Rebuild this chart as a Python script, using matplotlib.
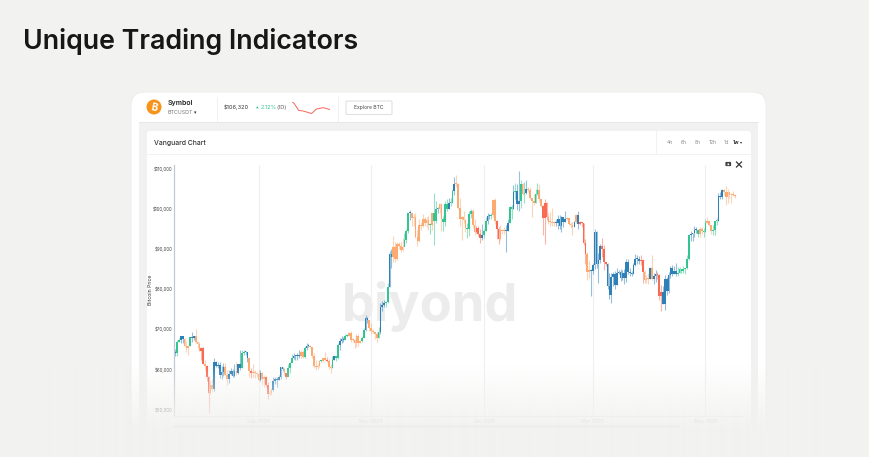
import matplotlib
matplotlib.use('Agg')
import matplotlib.pyplot as plt
import matplotlib.dates as mdates
import numpy as np
import pandas as pd
from matplotlib.patches import FancyBboxPatch, Rectangle, Circle

W, H = 869, 457

# daily closes, highs and lows in $1000 (Jul 17 2024 - May 17 2025)
closes = [
    64.1, 64.0, 66.7, 67.2, 68.2, 67.6, 65.9, 65.4, 65.8, 68.0, 67.9, 68.3, 66.8, 66.2, 64.6,
    65.4, 61.4, 60.7, 58.1, 54.0, 56.0, 55.1, 61.7, 60.9, 61.0, 58.7, 59.4, 60.6, 58.7, 57.6, 58.9, 59.5, 58.4, 59.5, 59.0, 61.2, 60.4, 64.1, 64.2, 64.3, 62.9, 59.5, 59.0, 59.4, 59.1, 58.9,
    57.3, 59.1, 57.5, 58.0, 56.2, 53.9, 54.1, 54.8, 57.0, 57.6, 57.3, 58.1, 60.5, 60.0, 59.2, 58.2, 60.3, 61.6, 62.9, 63.2, 63.3, 63.6, 63.3, 64.3, 63.1, 65.2, 65.8, 65.9, 65.6, 63.3,
    60.8, 60.6, 60.8, 62.1, 62.1, 62.8, 62.2, 62.1, 60.6, 60.3, 62.4, 63.2, 62.9, 66.1, 67.0, 67.6, 67.4, 68.4, 68.4, 69.0, 67.4, 67.4, 66.6, 68.2, 66.6, 67.0, 67.9, 69.9, 72.7, 72.3, 70.2,
    69.5, 69.3, 68.7, 67.8, 69.4, 75.6, 75.9, 76.5, 76.7, 80.4, 88.7, 88.0, 90.5, 87.4, 91.1, 90.6, 89.8, 90.5, 92.3, 94.3, 98.9, 98.9, 97.7, 98.0, 93.0, 91.9, 95.9, 95.6, 97.5, 96.4,
    97.2, 95.9, 96.0, 98.8, 97.0, 99.9, 99.9, 101.2, 97.4, 96.6, 101.2, 100.0, 101.4, 101.4, 104.3, 106.0, 106.1, 100.2, 97.5, 97.8, 97.2, 95.2, 94.9, 98.7, 99.4, 95.8, 94.2, 95.1, 93.7, 92.8, 93.4,
    94.5, 96.9, 98.1, 98.2, 98.3, 102.1, 96.9, 95.0, 92.5, 94.7, 94.5, 94.5, 94.5, 96.5, 100.5, 99.8, 104.1, 104.4, 101.1, 102.0, 106.1, 103.7, 103.9, 104.8, 104.7, 102.6, 102.0, 101.3, 103.7, 104.7, 102.4,
    100.6, 97.7, 101.4, 97.9, 96.6, 96.6, 96.5, 96.5, 96.5, 97.4, 95.7, 97.8, 96.6, 97.5, 97.6, 96.1, 95.8, 95.5, 96.6, 98.3, 96.1, 96.6, 96.3, 91.5, 88.7, 84.3, 84.7, 84.4,
    86.0, 94.2, 86.1, 87.2, 90.6, 89.9, 86.7, 86.2, 80.7, 78.5, 82.9, 83.7, 81.0, 83.9, 84.3, 82.6, 84.0, 82.7, 86.8, 84.2, 84.0, 83.8, 86.0, 87.5, 87.4, 86.9, 87.2, 84.3, 82.3, 82.4, 82.5,
    85.1, 82.5, 83.1, 83.8, 83.5, 78.2, 79.2, 76.3, 82.5, 79.6, 83.4, 85.3, 83.7, 84.5, 83.6, 84.0, 84.9, 84.4, 85.0, 85.1, 87.5, 93.4, 93.7, 93.9, 94.7, 94.6, 93.8, 95.0, 94.3, 94.2,
    96.5, 96.9, 95.9, 94.3, 94.7, 96.8, 97.0, 103.2, 102.9, 104.6, 104.1, 102.8, 104.1, 103.5, 103.7, 103.5, 103.2,
]
highs = [
    65.1, 65.1, 67.4, 67.8, 68.4, 68.4, 67.8, 67.0, 66.1, 68.2, 69.4, 68.3, 70.0, 67.0, 66.8,
    65.6, 65.5, 62.2, 61.0, 58.3, 57.0, 57.7, 62.7, 62.0, 61.8, 61.7, 60.7, 61.5, 61.6, 59.8, 59.8, 60.2, 60.0, 61.4, 61.8, 61.4, 64.9, 64.9, 64.8, 64.5, 63.2, 60.2, 60.2, 61.2, 59.9, 59.4,
    59.8, 59.8, 59.4, 58.5, 58.3, 56.9, 54.8, 55.3, 58.1, 58.0, 58.0, 58.6, 60.6, 60.6, 60.4, 59.2, 61.3, 61.7, 63.8, 64.0, 63.5, 64.0, 64.7, 64.7, 64.8, 65.8, 66.5, 66.2, 66.0, 65.6,
    64.0, 62.3, 61.4, 62.4, 62.3, 62.9, 64.4, 63.1, 62.5, 61.3, 63.4, 63.4, 63.2, 66.5, 67.9, 68.4, 68.0, 68.9, 68.7, 69.4, 69.5, 67.8, 67.6, 68.8, 68.7, 67.3, 68.2, 70.2, 73.6, 72.9, 72.6,
    71.5, 70.0, 69.4, 69.4, 70.5, 76.4, 76.9, 77.2, 77.0, 81.5, 89.5, 89.9, 93.3, 91.7, 91.8, 91.7, 91.7, 92.6, 94.0, 94.9, 99.0, 99.6, 99.0, 98.7, 98.9, 94.7, 97.4, 96.6, 98.6, 97.8,
    97.9, 98.1, 96.5, 99.0, 103.9, 102.0, 100.5, 101.4, 101.2, 98.2, 101.9, 102.5, 102.6, 102.6, 105.0, 107.8, 108.3, 106.4, 102.7, 98.2, 99.5, 97.4, 96.4, 99.4, 99.9, 99.9, 97.4, 95.6, 95.7, 94.9, 96.1,
    94.9, 97.8, 98.9, 98.7, 98.8, 102.5, 102.7, 97.2, 95.3, 95.8, 95.0, 95.3, 95.8, 97.3, 100.7, 100.8, 105.9, 106.3, 106.0, 109.4, 107.2, 106.3, 106.7, 107.0, 105.3, 105.4, 102.7, 103.7, 104.8, 106.4, 106.0,
    102.3, 100.9, 102.5, 101.7, 98.8, 99.1, 100.1, 96.9, 97.3, 98.3, 98.4, 98.1, 98.0, 99.4, 97.9, 97.7, 96.7, 96.6, 96.9, 98.7, 99.4, 96.8, 96.7, 96.5, 92.4, 89.3, 87.0, 85.0,
    86.5, 95.0, 94.4, 88.9, 91.2, 92.6, 90.9, 86.8, 86.4, 84.0, 84.0, 84.3, 84.4, 85.2, 84.7, 85.0, 84.7, 84.9, 87.4, 87.4, 85.3, 84.5, 86.5, 88.7, 88.5, 88.2, 88.5, 87.5, 84.6, 83.5, 83.9,
    85.5, 88.5, 83.9, 84.7, 84.2, 83.8, 81.1, 80.8, 83.5, 83.0, 84.3, 85.8, 86.0, 85.8, 86.4, 85.4, 85.5, 85.0, 85.6, 85.3, 88.5, 93.8, 94.5, 94.0, 95.7, 95.3, 95.0, 95.5, 95.4, 95.2,
    97.4, 97.9, 97.0, 96.0, 95.9, 97.0, 97.7, 103.9, 104.2, 104.9, 104.9, 105.7, 104.9, 104.2, 104.0, 104.4, 103.7,
]
lows = [
    63.4, 63.2, 63.3, 66.8, 66.6, 66.6, 65.5, 64.2, 63.5, 65.7, 66.9, 67.2, 66.6, 65.3, 64.5,
    62.3, 61.2, 59.9, 57.2, 49.1, 53.9, 54.6, 54.7, 60.5, 60.3, 57.8, 57.7, 58.4, 58.5, 56.1, 56.6, 58.5, 58.2, 58.0, 58.6, 58.9, 59.8, 60.4, 63.6, 63.5, 61.8, 58.1, 57.9, 58.0, 57.8, 58.2,
    57.1, 57.1, 56.0, 55.6, 55.6, 52.6, 53.7, 53.6, 54.6, 56.4, 55.6, 57.4, 57.6, 59.6, 58.7, 57.6, 58.4, 59.2, 61.7, 62.5, 62.4, 62.4, 62.7, 62.7, 62.7, 62.7, 64.8, 65.5, 65.4, 62.9,
    60.2, 59.9, 60.1, 60.5, 61.7, 61.9, 62.1, 61.8, 60.0, 59.0, 60.4, 62.4, 62.0, 62.5, 64.8, 66.6, 66.7, 67.2, 68.1, 68.3, 66.7, 66.7, 65.3, 65.6, 65.8, 66.5, 66.8, 67.7, 69.5, 71.5, 69.6,
    68.9, 69.0, 67.6, 66.9, 67.8, 68.7, 74.4, 75.6, 75.5, 76.6, 80.4, 85.2, 86.6, 86.7, 87.2, 90.0, 89.1, 89.4, 90.9, 91.5, 94.0, 97.2, 95.7, 95.6, 92.6, 90.8, 91.7, 94.7, 95.4, 95.7,
    95.5, 94.6, 93.6, 94.7, 91.0, 96.5, 98.9, 98.9, 94.3, 94.3, 95.7, 99.3, 100.0, 100.7, 101.3, 103.4, 105.3, 100.0, 95.6, 92.2, 96.4, 94.2, 92.6, 93.1, 97.6, 95.2, 93.5, 93.9, 93.3, 91.4, 92.2,
    92.8, 94.3, 96.1, 97.5, 97.3, 97.9, 96.2, 92.5, 91.3, 92.3, 93.8, 93.8, 89.3, 94.4, 96.5, 97.4, 99.9, 102.3, 99.6, 99.5, 100.1, 103.3, 101.3, 103.7, 104.1, 102.5, 97.8, 100.8, 101.3, 103.3, 101.6,
    100.3, 93.4, 91.2, 97.2, 96.2, 95.7, 95.7, 95.7, 95.7, 94.8, 94.9, 94.1, 95.3, 96.6, 97.2, 95.9, 95.2, 93.4, 95.4, 96.4, 94.9, 95.8, 95.4, 91.0, 86.1, 82.2, 82.8, 78.3,
    83.8, 85.0, 85.1, 81.5, 86.4, 87.9, 84.8, 85.6, 80.1, 77.5, 76.6, 80.8, 79.9, 80.9, 83.7, 81.9, 82.2, 81.2, 81.7, 83.7, 83.2, 83.2, 83.6, 85.6, 86.3, 86.3, 85.9, 81.6, 81.6, 81.6, 81.3,
    82.4, 82.3, 81.2, 81.7, 82.4, 77.2, 74.5, 76.2, 74.8, 78.5, 78.9, 82.8, 83.1, 83.7, 83.1, 83.2, 83.9, 83.9, 84.0, 83.7, 84.9, 87.2, 91.9, 92.0, 92.9, 93.9, 92.9, 92.9, 93.7, 92.9,
    94.2, 96.4, 95.6, 93.6, 93.5, 93.4, 96.0, 96.9, 102.4, 102.4, 103.4, 100.8, 101.5, 102.6, 101.5, 103.1, 102.6,
]
# colour of each stretch of candles: (state, number of days)
state_runs = [
    ('b', 2), ('g', 2), ('b', 2), ('o', 3), ('g', 1), ('b', 2), ('o', 3), ('r', 2), ('o', 1), ('r', 2), ('o', 2),
    ('b', 6), ('o', 2), ('b', 4), ('o', 1), ('b', 2), ('g', 2), ('b', 2), ('o', 1), ('r', 1), ('o', 4), ('b', 1),
    ('o', 2), ('r', 2), ('o', 2), ('b', 6), ('o', 1), ('r', 1), ('g', 3), ('b', 4), ('o', 2), ('g', 1), ('b', 2),
    ('o', 6), ('g', 1), ('o', 2), ('r', 1), ('o', 2), ('g', 1), ('b', 1), ('g', 2), ('b', 3), ('g', 2), ('o', 7),
    ('g', 2), ('b', 2), ('o', 5), ('g', 1), ('b', 3), ('g', 2), ('b', 2), ('o', 6), ('g', 3), ('b', 1), ('o', 10),
    ('g', 1), ('o', 1), ('g', 2), ('b', 1), ('o', 2), ('g', 3), ('b', 1), ('g', 2), ('b', 1), ('o', 6), ('g', 3),
    ('o', 2), ('r', 3), ('b', 1), ('g', 2), ('b', 2), ('g', 1), ('o', 2), ('r', 2), ('o', 3), ('b', 2), ('g', 2),
    ('b', 1), ('g', 1), ('b', 2), ('g', 1), ('o', 1), ('g', 1), ('b', 1), ('o', 4), ('g', 2), ('o', 2), ('r', 3),
    ('o', 4), ('b', 6), ('o', 4), ('b', 1), ('o', 1), ('b', 1), ('r', 4), ('o', 2), ('b', 6), ('r', 3), ('b', 18),
    ('r', 2), ('o', 3), ('b', 1), ('o', 1), ('b', 2), ('r', 3), ('b', 8), ('g', 7), ('b', 4), ('g', 1), ('o', 2),
    ('g', 2), ('o', 3), ('g', 3), ('b', 3), ('o', 7),
]
state_colors = {'g': '#33c48f', 'b': '#3080b8', 'o': '#fbab72', 'r': '#fa6a52'}

y_ticks = [50, 60, 70, 80, 90, 100, 110]
x_tick_dates = ['2024-09-01', '2024-11-01', '2025-01-01', '2025-03-01', '2025-05-01']
x_tick_labels = ['Sep 2024', 'Nov 2024', 'Jan 2025', 'Mar 2025', 'May 2025']
time_tabs = ['4h', '6h', '8h', '12h', '1d', '1w']
tab_x = [670, 684, 698, 712.5, 726, 736.5]
spark_hours = [0, 2, 5.5, 10, 16, 20, 25.5, 31]
spark_prices = [106.3, 105.7, 103.6, 103.3, 102.6, 104.0, 104.4, 103.8]

BG = '#f2f2f0'
fig = plt.figure(figsize=(W / 100, H / 100), dpi=100, facecolor=BG)
plt.rcParams['font.family'] = ['Inter', 'DejaVu Sans']

# page furniture, drawn in pixel coordinates
ui = fig.add_axes([0, 0, 1, 1], zorder=0)
ui.set_xlim(0, W)
ui.set_ylim(H, 0)
ui.axis('off')

ui.text(23, 41.5, 'Unique Trading Indicators', fontsize=19.3, fontweight='semibold', color='#171717', va='center')

ui.add_patch(FancyBboxPatch((131 + 14, 92 + 14), 635 - 28, 330, boxstyle='round,pad=14', fc='white', ec='#ecebe9', lw=0.6))
ui.add_patch(Rectangle((139, 122), 619, 315, fc='#f1f1f1', ec='none'))
ui.add_patch(FancyBboxPatch((147 + 3, 131 + 3), 604 - 6, 300, boxstyle='round,pad=3', fc='white', ec='none'))
ui.plot([139, 758], [122, 122], color='#e6e6e6', lw=0.6)
ui.plot([147, 751], [154, 154], color='#f2f2f2', lw=0.7)
ui.plot([655.5, 655.5], [131, 154], color='#f2f2f2', lw=0.7)
ui.plot([216.5, 216.5], [97, 121], color='#f1f1f1', lw=0.7)
ui.plot([337.5, 337.5], [97, 121], color='#f1f1f1', lw=0.7)

# symbol header
ui.add_patch(Circle((154, 107), 7.5, fc='#f7931a', ec='none'))
ui.text(154, 107.3, 'B', fontsize=7, color='white', ha='center', va='center', fontweight='bold', rotation=-12)
ui.text(168, 103.5, 'Symbol', fontsize=5, fontweight='semibold', color='#222222', va='center')
ui.text(168, 112.5, 'BTCUSDT', fontsize=3.8, color='#777777', va='center')
ui.text(195, 113, '\u25be', fontsize=3.5, color='#333333', va='center', ha='center', family='DejaVu Sans')
ui.text(224, 107.3, '$106,320', fontsize=4, color='#333333', va='center')
ui.text(256, 107.3, '\u25b2', fontsize=2.5, color='#33c48f', va='center', family='DejaVu Sans')
ui.text(261, 107.3, '2.12%', fontsize=4, color='#33c48f', va='center')
ui.text(276, 107.3, '(1D)', fontsize=4, color='#666666', va='center')
ui.add_patch(FancyBboxPatch((347, 102), 44, 11.5, boxstyle='round,pad=1', fc='white', ec='#dedede', lw=0.7))
ui.text(369, 107.8, 'Explore BTC', fontsize=3.6, color='#444444', ha='center', va='center')

ui.text(154, 142.5, 'Vanguard Chart', fontsize=4.9, fontweight='medium', color='#333333', va='center')
for tab, tx in zip(time_tabs, tab_x):
    ui.text(tx, 142.5, tab, fontsize=3.7, color='#333333' if tab == '1w' else '#888888', ha='center', va='center', fontweight='bold' if tab == '1w' else 'normal')
ui.text(741.5, 142.5, '\u25be', fontsize=3, color='#333333', ha='center', va='center', family='DejaVu Sans')

# camera and close icons
ui.add_patch(FancyBboxPatch((726, 162.5), 4.5, 3, boxstyle='round,pad=0.6', fc='#444444', ec='none'))
ui.add_patch(Circle((728.3, 164.3), 0.9, fc='white', ec='none'))
ui.plot([736.5, 741.5], [162, 167], color='#333333', lw=0.9)
ui.plot([736.5, 741.5], [167, 162], color='#333333', lw=0.9)

# watermark
ui.text(429.5, 307, 'biyond', fontsize=37.7, fontweight='bold', color='#ececec', ha='center', va='center')

# sparkline next to the price
spark = fig.add_axes([291.7 / W, 1 - 113.5 / H, 38.5 / W, 12 / H], zorder=1)
spark.plot(spark_hours, spark_prices, color='#f7655a', lw=0.7)
spark.margins(0)
spark.axis('off')

# main candle chart
left, right, top, bottom = 173.5, 743, 165, 415.5
ax = fig.add_axes([left / W, 1 - bottom / H, (right - left) / W, (bottom - top) / H], zorder=2)
ax.patch.set_alpha(0)

dates = pd.date_range('2024-07-17', periods=len(closes), freq='D')
x = mdates.date2num(dates)
opens = [closes[0]] + closes[:-1]
states = [s for s, n in state_runs for _ in range(n)]
colors = [state_colors[s] for s in states[:len(closes)]]

px_per_day = 1.847
sep_first = mdates.date2num(pd.Timestamp('2024-09-01'))
ax.set_xlim(sep_first - (258.5 - left) / px_per_day, sep_first + (right - 258.5) / px_per_day)
ax.set_ylim(48.5, 110.85)

tick_pos = mdates.date2num(pd.to_datetime(x_tick_dates))
ax.vlines(tick_pos, 48.5, 110.85, color='#efefef', lw=0.8, zorder=1)
ax.vlines(x, lows, highs, color=colors, lw=0.8, alpha=0.5, zorder=2)
body_bottom = np.minimum(opens, closes)
body_height = np.maximum(np.abs(np.array(closes) - np.array(opens)), 0.25)
ax.bar(x, body_height, bottom=body_bottom, width=0.9, color=colors, lw=0, zorder=3)

ax.set_xticks(tick_pos)
ax.set_xticklabels(x_tick_labels, fontsize=3.6, color='#999999')
ax.set_yticks(y_ticks)
ax.set_yticklabels(['${:,}'.format(v * 1000) for v in y_ticks], fontsize=3.2, color='#444444')
ax.tick_params(length=0, pad=0.6)
ax.tick_params(axis='x', pad=2.5)
for side in ['top', 'right']:
    ax.spines[side].set_visible(False)
ax.spines['left'].set_color('#c4c8d2')
ax.spines['left'].set_linewidth(0.9)
ax.spines['bottom'].set_color('#e8e8e8')
ax.spines['bottom'].set_linewidth(0.8)
ax.set_ylabel('Bitcoin Price', fontsize=3.7, color='#333333')
ax.yaxis.set_label_coords(-0.036, 0.5)

# everything fades into the page background at the bottom
fade = fig.add_axes([0, 0, 1, 1], zorder=3)
fade.set_xlim(0, W)
fade.set_ylim(H, 0)
fade.axis('off')
ramp = np.clip((np.arange(H) - 365) / 65.0, 0, 1)
bg_rgb = matplotlib.colors.to_rgb(BG)
rgba = np.zeros((H, 1, 4))
rgba[:, :, :3] = bg_rgb
rgba[:, 0, 3] = ramp
fade.imshow(rgba, extent=(0, W, H, 0), aspect='auto', interpolation='bilinear', zorder=1)
fade.add_patch(Rectangle((174, 425), 506, 3, fc='#eeeeec', ec='none', zorder=2))

fig.savefig('out.png', dpi=100, facecolor=BG)
